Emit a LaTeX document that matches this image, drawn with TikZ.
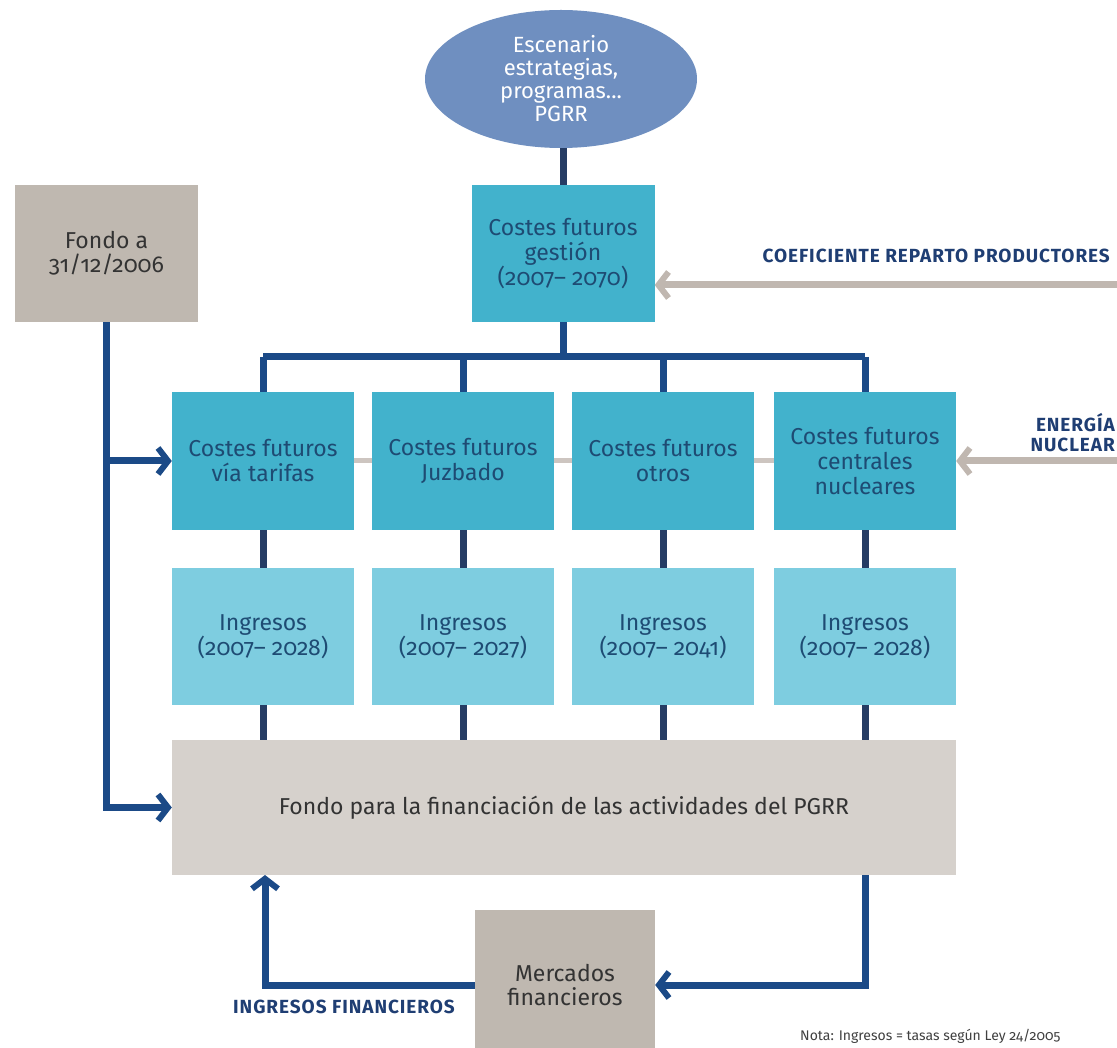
\documentclass[tikz,border=0pt]{standalone}
\usepackage{fontspec}
\setmainfont{Fira Sans}[Numbers=OldStyle]
\newfontfamily\lblfont{Fira Sans}[LetterSpace=5]
\usetikzlibrary{positioning,arrows.meta,shapes}

\definecolor{navy}{RGB}{27,74,135}
\definecolor{stemblue}{RGB}{38,60,100}
\definecolor{costteal}{RGB}{66,178,204}
\definecolor{ingteal}{RGB}{126,205,224}
\definecolor{ellblue}{RGB}{111,143,192}
\definecolor{fondogray}{RGB}{214,209,204}
\definecolor{darkbox}{RGB}{191,184,176}
\definecolor{arrgray}{RGB}{192,183,176}
\definecolor{txtblue}{RGB}{30,75,115}
\definecolor{lblblue}{RGB}{31,62,115}

\begin{document}
\begin{tikzpicture}[x=1pt,y=-1pt,
  cbox/.style={fill=costteal,minimum width=182pt,minimum height=138pt,align=center,text=txtblue,font=\fontsize{23}{25}\selectfont,inner sep=2pt},
  ibox/.style={cbox,fill=ingteal},
  gbox/.style={fill=darkbox,minimum width=183pt,minimum height=137pt,align=center,text=black!80,font=\fontsize{23}{24}\selectfont,inner sep=2pt},
  lbl/.style={text=lblblue,font=\lblfont\bfseries\fontsize{19}{20}\selectfont,inner sep=0pt},
  stem/.style={draw=stemblue,line width=7pt},
  link/.style={draw=navy,line width=7pt},
  linkarr/.style={link,-{Straight Barb[length=10pt,width=26pt,line width=6pt]}},
  grayarr/.style={draw=arrgray,line width=7pt,-{Straight Barb[length=10pt,width=26pt,line width=6pt]}}]
  \useasboundingbox[fill=white] (0,0) rectangle (1117,1048);

  \node[ellipse,fill=ellblue,minimum width=272pt,minimum height=138pt,inner sep=0pt,align=center,text=white,font=\fontsize{22}{23}\selectfont] (esc) at (561,79) {Escenario\\estrategias,\\programas...\\PGRR};
  \node[cbox,minimum width=183pt,minimum height=137pt] (gest) at (563,253.5) {Costes futuros\\gestión\\(2007– 2070)};
  \node[gbox] (fondo) at (106.5,253.5) {Fondo a\\31/12/2006};

  \node[cbox] (c1) at (263,461) {Costes futuros\\vía tarifas};
  \node[cbox] (c2) at (463,461) {Costes futuros\\Juzbado};
  \node[cbox] (c3) at (663,461) {Costes futuros\\otros};
  \node[cbox] (c4) at (865,461) {Costes futuros\\centrales\\nucleares};

  \node[ibox,minimum height=137pt] (i1) at (263,636.5) {Ingresos\\(2007– 2028)};
  \node[ibox,minimum height=137pt] (i2) at (463,636.5) {Ingresos\\(2007– 2027)};
  \node[ibox,minimum height=137pt] (i3) at (663,636.5) {Ingresos\\(2007– 2041)};
  \node[ibox,minimum height=137pt] (i4) at (865,636.5) {Ingresos\\(2007– 2028)};

  \node[gbox,fill=fondogray,minimum width=784pt,minimum height=135pt] (fin) at (564,807.5) {Fondo para la financiación de las actividades del PGRR};
  \node[gbox,minimum width=180pt,minimum height=150pt] (merc) at (565,985) {Mercados\\financieros};

  % texts on the arrows
  \node[lbl,anchor=east] (coef) at (1110,256) {COEFICIENTE REPARTO PRODUCTORES};
  \node[lbl,anchor=south east,align=right] (energia) at (1115,452) {ENERGÍA\\NUCLEAR};
  \node[lbl] (ingfin) at (344,1007) {INGRESOS FINANCIEROS};
  \node[anchor=base west,inner sep=0pt,text=black!75,font=\fontsize{14}{16}\selectfont] (nota) at (800,1040) {Nota: Ingresos = tasas según Ley 24/2005};

  \coordinate (bus) at (563,357);
  \coordinate (coefin) at (1117,285);
  \coordinate (enin) at (1117,461);
  \coordinate (finin) at (265,875);
  \coordinate (finout) at (865,875);

  % tree from the scenario down to the rows
  \draw[stem] (esc.south -| gest.north) -- (gest.north);
  \draw[link] (gest.south) -- (bus);
  \draw[link] (c1.north |- bus) -- (c4.north |- bus);
  \foreach \i in {1,...,4}{
    \draw[link] (c\i.north |- bus) -- (c\i.north);
    \draw[stem] (c\i.south) -- (i\i.north);
    \draw[stem] (i\i.south) -- (i\i.south |- fin.north);
  }
  \draw[draw=arrgray!80,line width=5pt] (c1.east) -- (c2.west);
  \draw[draw=arrgray!80,line width=5pt] (c2.east) -- (c3.west);
  \draw[draw=arrgray!80,line width=5pt] (c3.east) -- (c4.west);

  % inputs from the right
  \draw[grayarr] (coefin) -- (gest.east |- coefin);
  \draw[grayarr] (enin) -- (c4.east);

  % fund at start
  \draw[linkarr] (fondo.south) |- (fin.west);
  \draw[linkarr] (fondo.south |- c1.west) -- (c1.west);

  % financial markets loop
  \draw[linkarr] (finout) |- (merc.east);
  \draw[linkarr] (merc.west) -| (finin);
\end{tikzpicture}
\end{document}
